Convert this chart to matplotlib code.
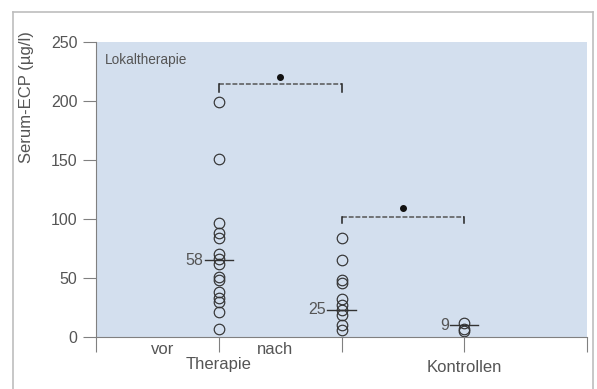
import matplotlib
matplotlib.use("Agg")
import matplotlib.pyplot as plt
from matplotlib.lines import Line2D
import matplotlib.transforms as mtransforms

# ---- data ----
group_x = [1, 2, 3]
vor_values = [199, 151, 97, 88, 84, 70, 66, 62, 51, 48, 38, 33, 30, 21, 7]
nach_values = [84, 65, 48, 46, 32, 27, 23, 19, 10, 6]
kontrollen_values = [12, 7, 5]
median_positions = [65, 23, 10]
median_labels = ["58", "25", "9"]
brackets = [(1, 2, 214, 208), (2, 3, 101.5, 97)]  # x1, x2, top, end
bracket_dots = [220.5, 109]
yticks = [0, 50, 100, 150, 200, 250]
xticks = [0, 1, 2, 3, 4]
under_labels = [(0.545, "vor", 350), (1.46, "nach", 350), (1.0, "Therapie", 365), (3.0, "Kontrollen", 368)]

FONT = ["Liberation Sans Narrow", "Liberation Sans", "DejaVu Sans"]
plt.rcParams["font.family"] = FONT
TXT = "#555555"
AX = "#808080"
BG = "#d3dfee"
MK = "#333333"

W, H = 597, 389
fig = plt.figure(figsize=(W / 100, H / 100), dpi=100)
fig.patch.set_facecolor("white")

def fx(px):
    return px / W

def fy(py):
    return 1 - py / H

ax = fig.add_axes([fx(96), fy(337), fx(587) - fx(96), fy(42) - fy(337)])
ax.set_facecolor(BG)
ax.set_xlim(0, 4)
ax.set_ylim(0, 250)

for s in ["top", "right"]:
    ax.spines[s].set_visible(False)
ax.spines["left"].set_color(AX)
ax.spines["bottom"].set_color(AX)
ax.spines["left"].set_linewidth(0.8)
ax.spines["bottom"].set_linewidth(0.8)

ax.set_yticks(yticks)
ax.set_yticklabels([str(v) for v in yticks])
ax.tick_params(axis="y", length=9.5, width=0.8, color=AX, pad=4, labelsize=11.5, labelcolor=TXT)
ax.set_xticks(xticks)
ax.set_xticklabels([])
ax.tick_params(axis="x", length=11, width=0.8, color=AX)

# points
for gx, vals in zip(group_x, [vor_values, nach_values, kontrollen_values]):
    ax.plot([gx] * len(vals), vals, linestyle="none", marker="o", markersize=7.6,
            markerfacecolor="none", markeredgecolor=MK, markeredgewidth=0.85, clip_on=False)

# medians
hw = 0.115
for gx, m, lab in zip(group_x, median_positions, median_labels):
    ax.plot([gx - hw, gx + hw], [m, m], color=MK, linewidth=1.0)
    ax.text(gx - hw - 0.01, m, lab, ha="right", va="center", fontsize=11.5, color=TXT)

# brackets
for (x1, x2, top, end), dot in zip(brackets, bracket_dots):
    ax.plot([x1, x2], [top, top], color="#555555", linewidth=1.1, linestyle=(0, (3.2, 1.2)))
    ax.plot([x1, x1], [top, end], color="#222222", linewidth=1.1)
    ax.plot([x2, x2], [top, end], color="#222222", linewidth=1.1)
    ax.plot([(x1 + x2) / 2], [dot], marker="o", markersize=4, color="#111111", linestyle="none")

ax.text(fx(105 - 96) / (fx(587) - fx(96)), 0.94, "Lokaltherapie", transform=ax.transAxes,
        ha="left", va="center", fontsize=9.8, color=TXT)

# labels under x axis
trans = mtransforms.blended_transform_factory(ax.transData, fig.transFigure)
for xv, lab, py in under_labels:
    ax.text(xv, fy(py), lab, transform=trans, ha="center", va="center", fontsize=12, color=TXT)

fig.text(fx(27), fy(97), "Serum-ECP (µg/l)", rotation=90, ha="center", va="center",
         fontsize=12, color=TXT)

# outer frame
frame = "#bdbdbd"
fig.add_artist(Line2D([fx(13), fx(13)], [fy(12), 0], transform=fig.transFigure, color=frame, lw=1.2))
fig.add_artist(Line2D([fx(13), fx(593)], [fy(12), fy(12)], transform=fig.transFigure, color=frame, lw=1.2))
fig.add_artist(Line2D([fx(593), fx(593)], [fy(12), 0], transform=fig.transFigure, color=frame, lw=1.2))

fig.savefig("out.png", dpi=100)
